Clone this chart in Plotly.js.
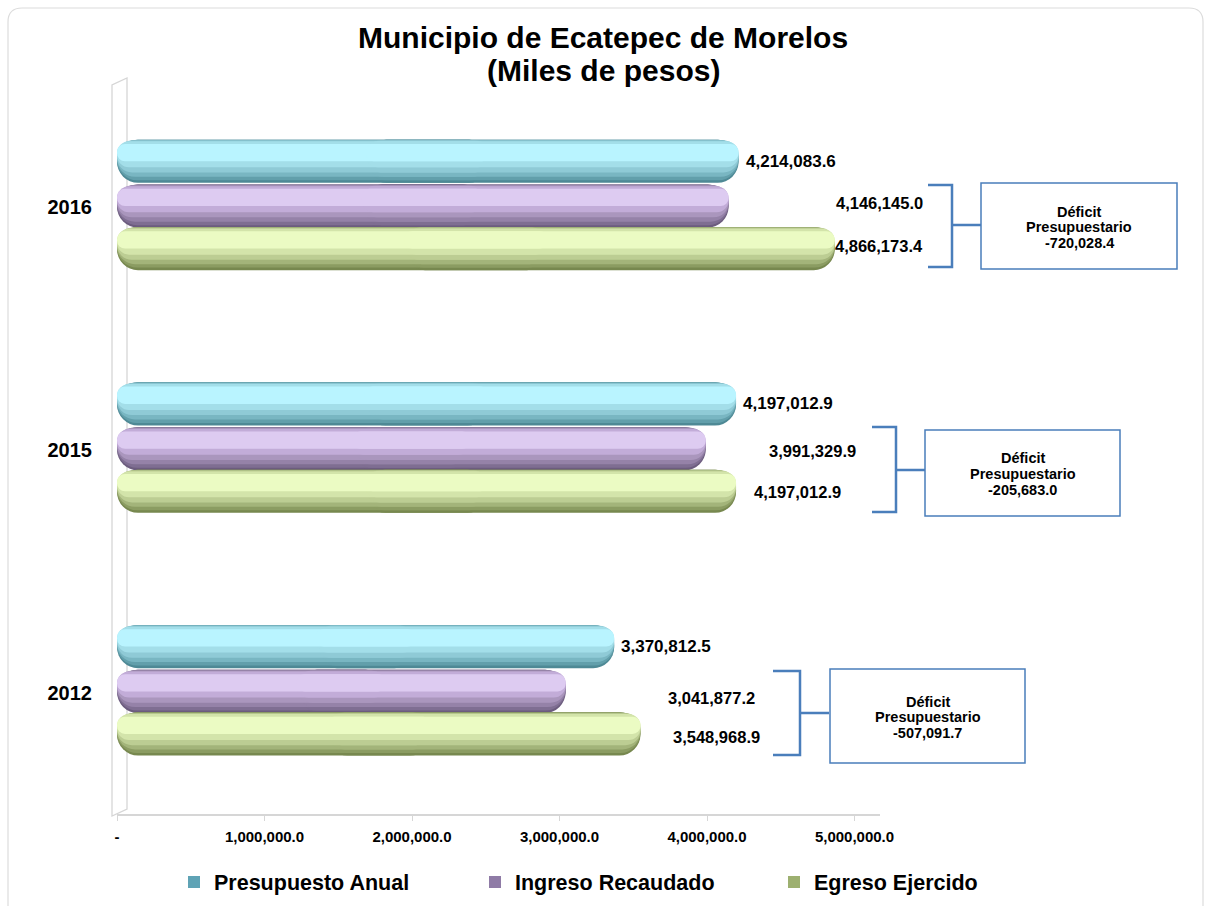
<!DOCTYPE html>
<html>
<head>
<meta charset="utf-8">
<script src="https://cdn.plot.ly/plotly-3.0.1.min.js"></script>
<style>html,body{margin:0;padding:0;background:#fff;}#chart{width:1206px;height:906px;}</style>
</head>
<body>
<div id="chart"></div>
<script>
// ---- data ----
const years = ['2012', '2015', '2016'];
const seriesNames = ['Presupuesto Anual', 'Ingreso Recaudado', 'Egreso Ejercido'];
const presupuesto = [3370812.5, 4197012.9, 4214083.6];
const ingreso = [3041877.2, 3991329.9, 4146145.0];
const egreso = [3548968.9, 4197012.9, 4866173.4];
const tickVals = [0, 1000000, 2000000, 3000000, 4000000, 5000000];
const tickText = ['-', '1,000,000.0', '2,000,000.0', '3,000,000.0', '4,000,000.0', '5,000,000.0'];
const titleLines = ['Municipio de Ecatepec de Morelos', '(Miles de pesos)'];
const deficitLabel = ['Déficit', 'Presupuestario'];

// ---- styling / layout config ----
const W = 1206, H = 906;
const M = {l: 117, r: 326, t: 86, b: 92};
const plotW = W - M.l - M.r, plotH = H - M.t - M.b;
const px = x => (x - M.l) / plotW;
const py = y => (H - M.b - y) / plotH;
const FONT = 'Liberation Sans, Arial, Helvetica, sans-serif';

const palettes = [
  ['#4e8995', '#629fab', '#79b6c2', '#8fcad6', '#a3dee9', '#b9f4ff'],
  ['#6c5c7e', '#7f6e92', '#9582a8', '#aa96bd', '#c2acd8', '#ddcbf1'],
  ['#77884f', '#8b9c62', '#a3b47a', '#bccd93', '#d3e4aa', '#ebfbc3']
];
const legendColors = ['#5fa3b5', '#8f7ba6', '#9db070'];
const legendIds = ['legend', 'legend2', 'legend3'];
const legendX = [174, 475, 774];
const centers = [0.19, 0.005, -0.17];
const thick = 0.178;
const layers = [[0, 1], [0.06, 1], [0.14, 0.99], [0.24, 0.98], [0.36, 0.96], [0.5, 0.9]];

// callout positions (pixels)
const callouts = [
  {ing: [711, 698], egr: [716, 737], br: [773, 800, 671, 755, 713, 829], box: [830, 669, 1025, 763]},
  {ing: [812, 451], egr: [797, 492], br: [872, 896, 427, 512, 470, 925], box: [925, 430, 1120, 516]},
  {ing: [879, 203], egr: [879, 246], br: [928, 952, 185, 267, 225, 981], box: [981, 183, 1177, 269]}
];

function fmt(v) {
  const s = Math.abs(v).toFixed(1);
  let [i, d] = s.split('.');
  i = i.replace(/\B(?=(\d{3})+(?!\d))/g, ',');
  return (v < 0 ? '-' : '') + i + '.' + d;
}

const allSeries = [presupuesto, ingreso, egreso];
const traces = [];
allSeries.forEach((vals, s) => {
  layers.forEach((ly, k) => {
    const width = thick * (ly[1] - ly[0]);
    const offset = centers[s] - thick / 2 + thick * ly[0];
    const color = palettes[s][k];
    // left half (rounded at zero end)
    traces.push({
      type: 'bar', orientation: 'h', y: years,
      x: vals.map(v => -0.6 * v), base: vals.map(v => 0.6 * v),
      width: width, offset: offset,
      marker: {color: color, cornerradius: '50%', line: {width: 0}},
      showlegend: false, hoverinfo: 'skip'
    });
    // right half (rounded at value end)
    traces.push({
      type: 'bar', orientation: 'h', y: years,
      x: vals.map(v => 0.6 * v), base: vals.map(v => 0.4 * v),
      width: width, offset: offset,
      marker: {color: color, cornerradius: '50%', line: {width: 0}},
      showlegend: false, hoverinfo: 'skip'
    });
  });
  // legend entry (zero-length bar, square swatch)
  traces.push({
    type: 'bar', orientation: 'h', y: [years[0]], x: [0],
    marker: {color: legendColors[s], line: {width: 0}},
    name: seriesNames[s], showlegend: true, hoverinfo: 'skip', legend: legendIds[s]
  });
});

const annotations = [];
const shapes = [];

// title
titleLines.forEach((t, i) => {
  annotations.push({
    xref: 'paper', yref: 'paper', x: px(603), y: py(i === 0 ? 37 : 70),
    xanchor: 'center', yanchor: 'middle', showarrow: false,
    text: t, font: {family: FONT, size: 30, color: '#000', weight: 'bold'}
  });
});

// outer frame
const fr = {x0: 8, y0: 8, x1: 1203, y1: 930, r: 14};
shapes.push({
  type: 'path', xref: 'paper', yref: 'paper', layer: 'below',
  path: `M ${px(fr.x0 + fr.r)},${py(fr.y0)} L ${px(fr.x1 - fr.r)},${py(fr.y0)} Q ${px(fr.x1)},${py(fr.y0)} ${px(fr.x1)},${py(fr.y0 + fr.r)} L ${px(fr.x1)},${py(fr.y1)} L ${px(fr.x0)},${py(fr.y1)} L ${px(fr.x0)},${py(fr.y0 + fr.r)} Q ${px(fr.x0)},${py(fr.y0)} ${px(fr.x0 + fr.r)},${py(fr.y0)} Z`,
  line: {color: '#dcdcdc', width: 1.2}
});
// back wall
shapes.push({
  type: 'path', xref: 'paper', yref: 'paper', layer: 'below',
  path: `M ${px(112)},${py(816)} L ${px(112)},${py(85)} L ${px(127)},${py(78)} L ${px(127)},${py(809)} Z`,
  line: {color: '#d6d6d6', width: 1.3}, fillcolor: 'rgba(0,0,0,0)'
});

// presupuesto value labels at bar ends
presupuesto.forEach((v, i) => {
  annotations.push({
    xref: 'x', yref: 'y', x: v, y: i + centers[0], xshift: 5,
    xanchor: 'left', yanchor: 'middle', showarrow: false,
    text: fmt(v), font: {family: FONT, size: 17, color: '#000', weight: 'bold'}
  });
});

// ingreso / egreso labels, brackets, deficit boxes
callouts.forEach((c, i) => {
  annotations.push({
    xref: 'paper', yref: 'paper', x: px(c.ing[0]), y: py(c.ing[1]),
    xanchor: 'center', yanchor: 'middle', showarrow: false,
    text: fmt(ingreso[i]), font: {family: FONT, size: 16.5, color: '#000', weight: 'bold'}
  });
  annotations.push({
    xref: 'paper', yref: 'paper', x: px(c.egr[0]), y: py(c.egr[1]),
    xanchor: 'center', yanchor: 'middle', showarrow: false,
    text: fmt(egreso[i]), font: {family: FONT, size: 16.5, color: '#000', weight: 'bold'}
  });
  const [x0, x1, y0, y1, ym, xm] = c.br;
  shapes.push({
    type: 'path', xref: 'paper', yref: 'paper',
    path: `M ${px(x0)},${py(y0)} L ${px(x1)},${py(y0)} L ${px(x1)},${py(y1)} L ${px(x0)},${py(y1)} M ${px(x1)},${py(ym)} L ${px(xm)},${py(ym)}`,
    line: {color: '#4a7ebb', width: 2.5}
  });
  const [bx0, by0, bx1, by1] = c.box;
  shapes.push({
    type: 'rect', xref: 'paper', yref: 'paper',
    x0: px(bx0), x1: px(bx1), y0: py(by1), y1: py(by0),
    line: {color: '#4a7ebb', width: 1.5}, fillcolor: '#ffffff'
  });
  const deficit = ingreso[i] - egreso[i];
  const cx = (bx0 + bx1) / 2, cy = (by0 + by1) / 2 + 1;
  [deficitLabel[0], deficitLabel[1], fmt(deficit)].forEach((t, k) => {
    annotations.push({
      xref: 'paper', yref: 'paper', x: px(cx), y: py(cy + (k - 1) * 15.5),
      xanchor: 'center', yanchor: 'middle', showarrow: false,
      text: t, font: {family: FONT, size: 14.5, color: '#000', weight: 'bold'}
    });
  });
});

const layout = {
  width: W, height: H,
  margin: M,
  paper_bgcolor: '#ffffff', plot_bgcolor: 'rgba(0,0,0,0)',
  font: {family: FONT, color: '#000'},
  barmode: 'overlay',
  xaxis: {
    range: [0, plotW / 147.5 * 1e6],
    tickvals: tickVals, ticktext: tickText,
    tickfont: {family: FONT, size: 15, color: '#000', weight: 'bold'},
    showgrid: false, zeroline: false,
    showline: true, linecolor: '#d6d6d6', linewidth: 1.5,
    ticks: 'outside', ticklen: 5, tickcolor: '#d6d6d6',
    ticklabelstandoff: 3, fixedrange: true
  },
  yaxis: {
    type: 'category', categoryarray: years, categoryorder: 'array',
    range: [-0.5, 2.5],
    tickfont: {family: FONT, size: 20, color: '#000', weight: 'bold'},
    showgrid: false, zeroline: false, showline: false, ticks: '',
    ticklabelstandoff: 24, fixedrange: true
  },
  shapes: shapes,
  annotations: annotations
};
legendIds.forEach((id, s) => {
  layout[id] = {
    orientation: 'h', xref: 'container', yref: 'container',
    x: legendX[s] / W, xanchor: 'left', y: 1 - 882 / H, yanchor: 'middle',
    font: {family: FONT, size: 21.5, color: '#000', weight: 'bold'},
    itemwidth: 30, bgcolor: 'rgba(0,0,0,0)'
  };
});

Plotly.newPlot('chart', traces, layout, {displayModeBar: false, staticPlot: true});
</script>
</body>
</html>
